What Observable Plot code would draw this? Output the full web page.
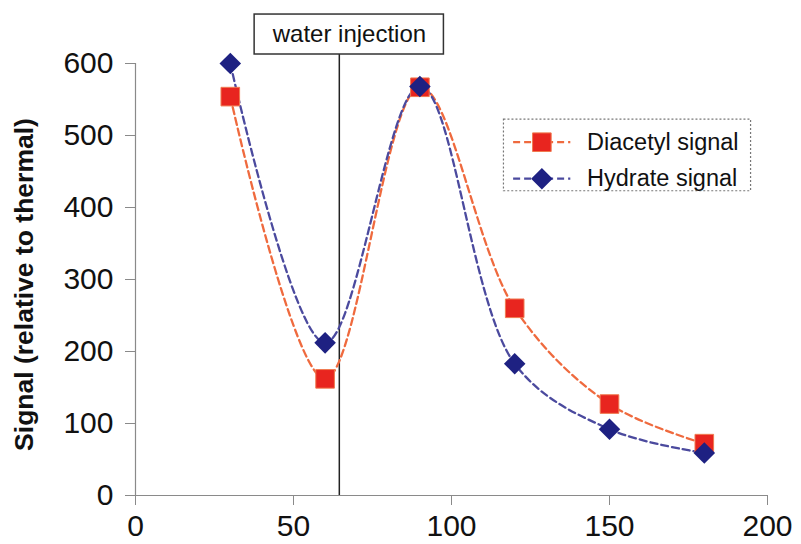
<!DOCTYPE html>
<html><head><meta charset="utf-8">
<script src="https://cdn.jsdelivr.net/npm/d3@7"></script>
<script src="https://cdn.jsdelivr.net/npm/@observablehq/plot@0.6"></script>
<style>
body{margin:0;background:#fff;font-family:"Liberation Sans",Arial,sans-serif}
#chart svg{display:block}
</style>
</head><body><div id="chart"></div>
<script>
// ---- data ----
const times = [30, 60, 90, 120, 150, 180];
const diacetyl = [554, 162, 567, 260, 127, 72];
const hydrate = [600, 212, 568, 183, 92, 59];
const seriesNames = ["Diacetyl signal", "Hydrate signal"];
const xTicks = [0, 50, 100, 150, 200];
const yTicks = [0, 100, 200, 300, 400, 500, 600];
const yLabel = "Signal (relative to thermal)";
const injectionTime = 64.5;
const annotationText = "water injection";

// ---- styles ----
const lineColors = ["#ef6a3e", "#4b4a9e"];
const markColors = ["#e8251f", "#1e2182"];

const rows = [];
times.forEach((t, i) => {
  rows.push({t, v: diacetyl[i], s: seriesNames[0]});
  rows.push({t, v: hydrate[i], s: seriesNames[1]});
});
const dRows = rows.filter(d => d.s === seriesNames[0]);
const hRows = rows.filter(d => d.s === seriesNames[1]);

// annotation + legend anchors (data space)
const annBox = {x1: 37.7, x2: 97.6, y1: 612.5, y2: 668};
const annTextPos = {x: 67.7, y: 640};
const legBox = {x1: 116.6, x2: 194.8, y1: 422.6, y2: 522};
const legend = [
  {name: seriesNames[0], y: 490.7},
  {name: seriesNames[1], y: 440}
];
const legLineX = [119.5, 137.6], legMarkX = 128.6, legTextX = 142.9;

const font = "Liberation Sans, Arial, sans-serif";

const chart = Plot.plot({
  width: 801, height: 544,
  marginLeft: 135, marginRight: 34, marginTop: 63, marginBottom: 49,
  style: {fontFamily: font, background: "#fff", overflow: "visible"},
  x: {domain: [0, 200]},
  y: {domain: [0, 600]},
  marks: [
    Plot.axisX({ticks: xTicks, tickSize: 10, tickPadding: 9, fontSize: 30, stroke: "#8a8a8a", fill: "#111", label: null, tickFormat: d => String(d)}),
    Plot.axisY({ticks: yTicks, tickSize: 10, tickPadding: 12, fontSize: 30, stroke: "#8a8a8a", fill: "#111", label: null, tickFormat: d => String(d)}),
    Plot.ruleY([0], {stroke: "#8a8a8a", strokeWidth: 1.2}),
    Plot.ruleX([0], {stroke: "#8a8a8a", strokeWidth: 1.2}),
    Plot.text([yLabel], {frameAnchor: "left", textAnchor: "middle", lineAnchor: "middle", rotate: -90, dx: -111, dy: 5, fontSize: 26.5, fontWeight: "bold", fill: "#111", text: d => d}),
    // annotation
    Plot.ruleX([injectionTime], {y1: 0, y2: annBox.y1, stroke: "#222", strokeWidth: 1.5}),
    Plot.rect([annBox], {x1: "x1", x2: "x2", y1: "y1", y2: "y2", fill: "white", stroke: "#333", strokeWidth: 1.5}),
    Plot.text([annotationText], {x: annTextPos.x, y: annTextPos.y, text: d => d, fontSize: 24, fill: "#111"}),
    // series
    Plot.line(dRows, {x: "t", y: "v", curve: "catmull-rom", stroke: lineColors[0], strokeWidth: 2.3, strokeDasharray: "7,4"}),
    Plot.line(hRows, {x: "t", y: "v", curve: "catmull-rom", stroke: lineColors[1], strokeWidth: 2.3, strokeDasharray: "7,4"}),
    Plot.dot(dRows, {x: "t", y: "v", symbol: "square", r: 10.5, fill: markColors[0], stroke: "#f07a50", strokeWidth: 1}),
    Plot.dot(hRows, {x: "t", y: "v", symbol: "square", rotate: 45, r: 8.6, fill: markColors[1], stroke: "none"}),
    // legend
    Plot.rect([legBox], {x1: "x1", x2: "x2", y1: "y1", y2: "y2", fill: "white", stroke: "#777", strokeDasharray: "2,2", strokeWidth: 1.2}),
    Plot.link(legend, {x1: legLineX[0], x2: legLineX[1], y1: "y", y2: "y", stroke: (d, i) => lineColors[i], strokeWidth: 2.3, strokeDasharray: "7,4"}),
    Plot.dot([legend[0]], {x: legMarkX, y: "y", symbol: "square", r: 10.5, fill: markColors[0], stroke: "#f07a50", strokeWidth: 1}),
    Plot.dot([legend[1]], {x: legMarkX, y: "y", symbol: "square", rotate: 45, r: 8.6, fill: markColors[1], stroke: "none"}),
    Plot.text(legend, {x: legTextX, y: "y", text: "name", textAnchor: "start", fontSize: 23.5, fill: "#111"})
  ]
});
document.getElementById("chart").appendChild(chart);
</script>
</body></html>
